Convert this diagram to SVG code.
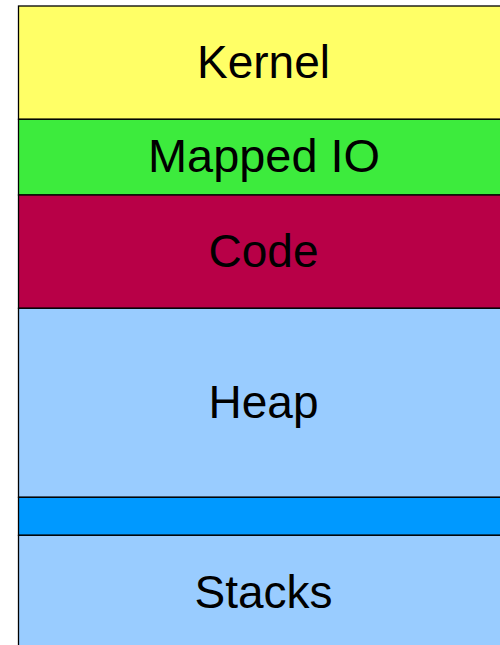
<svg xmlns="http://www.w3.org/2000/svg" width="500" height="645" viewBox="0 0 500 645">
  <style>
    .seg { stroke: #000; stroke-width: 1.3; }
    .lbl { font-family: "Liberation Sans", Arial, sans-serif; font-size: 46px; fill: #000; text-anchor: middle; }
  </style>
  <rect width="500" height="645" fill="#fff"/>
  <g id="kernel">
    <rect class="seg" x="18.5" y="6" width="500" height="113.3" fill="#ffff66"/>
    <text class="lbl" x="263.5" y="78">Kernel</text>
  </g>
  <g id="mapped-io">
    <rect class="seg" x="18.5" y="119.3" width="500" height="75.7" fill="#3deb3d"/>
    <text class="lbl" x="264" y="172" textLength="232" lengthAdjust="spacingAndGlyphs">Mapped IO</text>
  </g>
  <g id="code">
    <rect class="seg" x="18.5" y="195" width="500" height="113.3" fill="#b80047"/>
    <text class="lbl" x="263.5" y="267">Code</text>
  </g>
  <g id="heap">
    <rect class="seg" x="18.5" y="308.3" width="500" height="189" fill="#99ccff"/>
    <text class="lbl" x="263.5" y="418">Heap</text>
  </g>
  <g id="gap">
    <rect class="seg" x="18.5" y="497.3" width="500" height="38" fill="#0099ff"/>
  </g>
  <g id="stacks">
    <rect class="seg" x="18.5" y="535.3" width="500" height="120" fill="#99ccff"/>
    <text class="lbl" x="263.5" y="608">Stacks</text>
  </g>
  <g id="connectors"/>
</svg>
